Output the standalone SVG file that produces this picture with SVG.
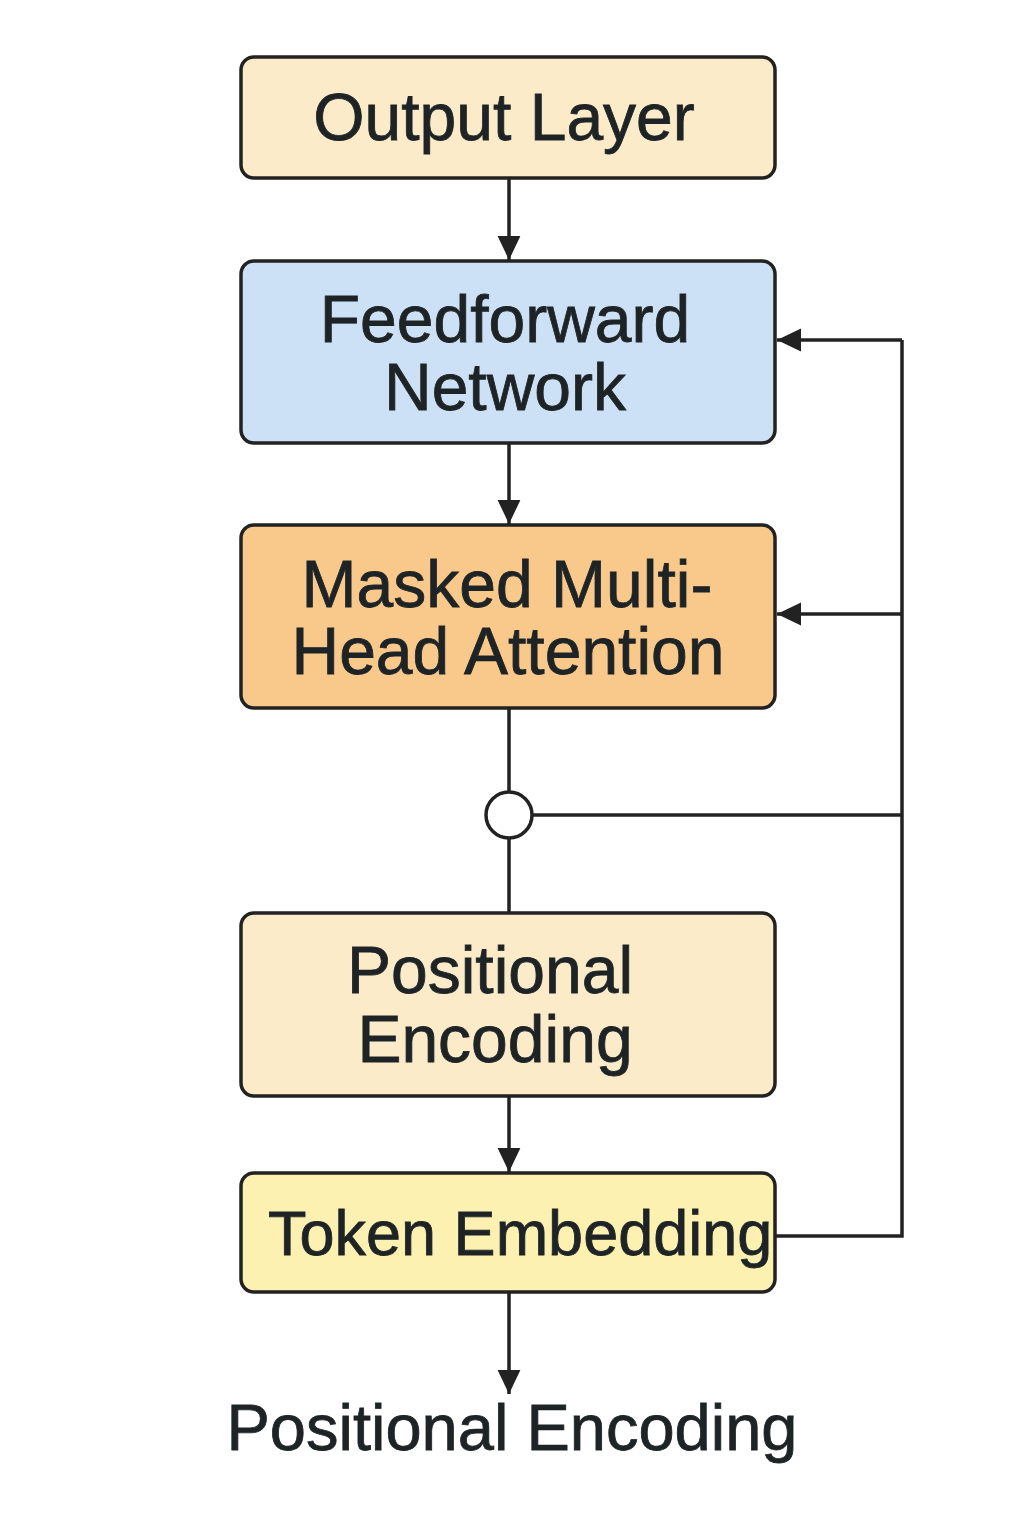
<svg xmlns="http://www.w3.org/2000/svg" width="1024" height="1536" viewBox="0 0 1024 1536">
<defs>
<style>
.box{stroke:#222;stroke-width:3.5}
.t{font-family:"Liberation Sans",Arial,sans-serif;font-size:66px;fill:#1e2326;stroke:#1e2326;stroke-width:0.8;text-anchor:middle}
.ln{fill:none;stroke:#222;stroke-width:3.5}
</style>
<marker id="arr" viewBox="0 0 20 20" refX="20" refY="10" markerWidth="24" markerHeight="24" orient="auto" markerUnits="userSpaceOnUse">
<path d="M0,0.5 L20,10 L0,19.5 Z" fill="#222"/>
</marker>
</defs>
<rect width="1024" height="1536" fill="#fff"/>
<g id="connectors">
<line class="ln" x1="509" y1="178" x2="509" y2="260" marker-end="url(#arr)"/>
<line class="ln" x1="509" y1="443" x2="509" y2="524" marker-end="url(#arr)"/>
<line class="ln" x1="509" y1="708" x2="509" y2="792"/>
<line class="ln" x1="509" y1="838" x2="509" y2="913"/>
<line class="ln" x1="509" y1="1096" x2="509" y2="1172" marker-end="url(#arr)"/>
<line class="ln" x1="509" y1="1292" x2="509" y2="1394" marker-end="url(#arr)"/>
<polyline class="ln" points="775,1236 902,1236 902,340"/>
<line class="ln" x1="902" y1="340" x2="777" y2="340" marker-end="url(#arr)"/>
<line class="ln" x1="902" y1="614" x2="777" y2="614" marker-end="url(#arr)"/>
<line class="ln" x1="532" y1="815" x2="902" y2="815"/>
</g>
<g id="output-layer">
<rect class="box" x="241" y="57" width="534" height="121" rx="13" fill="#fcebc8"/>
<text class="t" x="504" y="140">Output Layer</text>
</g>
<g id="feedforward">
<rect class="box" x="241" y="261" width="534" height="182" rx="13" fill="#cce1f6"/>
<text class="t" x="505" y="342">Feedforward</text>
<text class="t" x="505" y="410">Network</text>
</g>
<g id="masked-attention">
<rect class="box" x="241" y="525" width="534" height="183" rx="13" fill="#f8c98b"/>
<text class="t" x="507" y="607">Masked Multi-</text>
<text class="t" x="508" y="674">Head Attention</text>
</g>
<g id="sum">
<circle cx="509" cy="815" r="23" fill="#fff" stroke="#222" stroke-width="3.5"/>
</g>
<g id="positional-encoding">
<rect class="box" x="241" y="913" width="534" height="183" rx="13" fill="#fcebc8"/>
<text class="t" x="490" y="993">Positional</text>
<text class="t" x="495" y="1062">Encoding</text>
</g>
<g id="token-embedding">
<rect class="box" x="241" y="1173" width="534" height="119" rx="13" fill="#fcf1b0"/>
<text class="t" x="268" y="1255" style="text-anchor:start;font-size:63px">Token Embedding</text>
</g>
<g id="output-label">
<text class="t" x="512" y="1450" style="font-size:65px">Positional Encoding</text>
</g>
</svg>
